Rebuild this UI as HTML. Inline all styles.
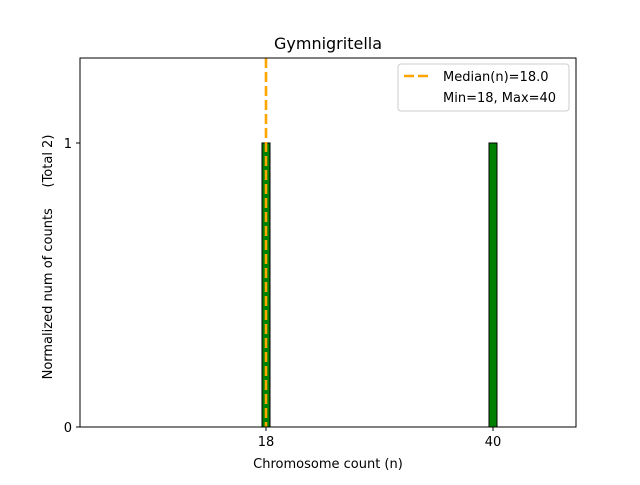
<!DOCTYPE html>
<html><head><style>body{margin:0;background:#fff}</style></head><body>
<svg width="640" height="480" xmlns="http://www.w3.org/2000/svg" font-family="DejaVu Sans, sans-serif">
<rect width="640" height="480" fill="#fff"/>
<rect x="262" y="143" width="8" height="284" fill="green" stroke="#000" stroke-width="1"/>
<rect x="489" y="143" width="8" height="284" fill="green" stroke="#000" stroke-width="1"/>
<line x1="266" y1="58" x2="266" y2="427" stroke="orange" stroke-width="2.6" stroke-dasharray="10,4"/>
<rect x="80" y="58" width="496" height="369" fill="none" stroke="#000" stroke-width="1"/>
<g stroke="#000"><line x1="80" y1="427" x2="76" y2="427"/><line x1="80" y1="143" x2="76" y2="143"/><line x1="266" y1="427" x2="266" y2="431"/><line x1="493" y1="427" x2="493" y2="431"/></g>
<g font-size="13" fill="#000">
<text x="72" y="432" text-anchor="end">0</text>
<text x="72" y="148" text-anchor="end">1</text>
<text x="266" y="446" text-anchor="middle">18</text>
<text x="493" y="446" text-anchor="middle">40</text>
<text x="328" y="468" text-anchor="middle">Chromosome count (n)</text>
<text transform="translate(52,257) rotate(-90)" text-anchor="middle" xml:space="preserve">Normalized num of counts     (Total 2)</text>
</g>
<text x="328" y="49" text-anchor="middle" font-size="16">Gymnigritella</text>
<rect x="398" y="64" width="171" height="47" rx="3" fill="#fff" stroke="#ccc"/>
<line x1="404" y1="76" x2="432" y2="76" stroke="orange" stroke-width="2.6" stroke-dasharray="10,4"/>
<text x="443" y="81" font-size="13">Median(n)=18.0</text>
<text x="443" y="102" font-size="13">Min=18, Max=40</text>
</svg>
</body></html>
